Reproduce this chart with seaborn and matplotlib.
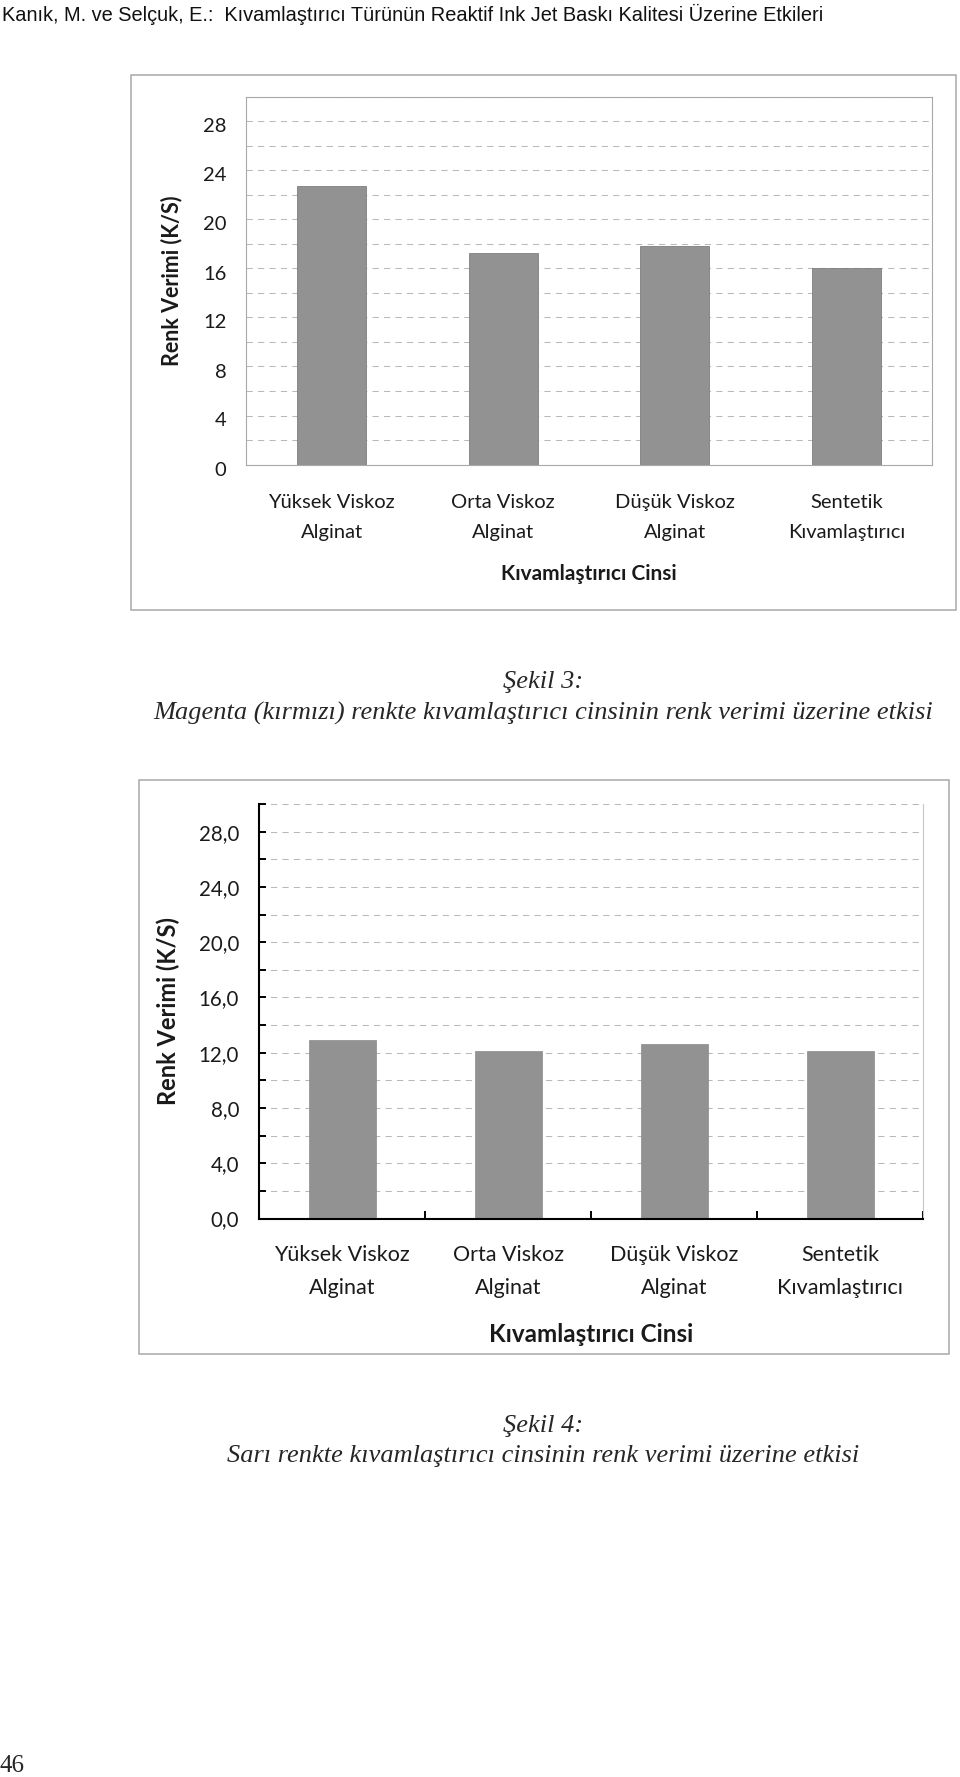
import matplotlib
matplotlib.use("Agg")
import matplotlib.pyplot as plt
import seaborn as sns
import pandas as pd
from matplotlib.patches import Rectangle
from matplotlib.ticker import FixedLocator
from matplotlib.transforms import ScaledTranslation

# ---------------- data ----------------
header = "Kanık, M. ve Selçuk, E.:  Kıvamlaştırıcı Türünün Reaktif Ink Jet Baskı Kalitesi Üzerine Etkileri"
categories = ["Yüksek Viskoz\nAlginat", "Orta Viskoz\nAlginat",
              "Düşük Viskoz\nAlginat", "Sentetik\nKıvamlaştırıcı"]
magenta_ks = [22.7, 17.25, 17.85, 16.05]
sari_ks = [12.9, 12.12, 12.65, 12.12]
major_ticks = [0, 4, 8, 12, 16, 20, 24, 28]
minor_ticks = [2, 6, 10, 14, 18, 22, 26, 30]
tick_labels_1 = ["0", "4", "8", "12", "16", "20", "24", "28"]
tick_labels_2 = ["0,0", "4,0", "8,0", "12,0", "16,0", "20,0", "24,0", "28,0"]
y_label = "Renk Verimi (K/S)"
x_label = "Kıvamlaştırıcı Cinsi"
caption3 = ["Şekil 3:", "Magenta (kırmızı) renkte kıvamlaştırıcı cinsinin renk verimi üzerine etkisi"]
caption4 = ["Şekil 4:", "Sarı renkte kıvamlaştırıcı cinsinin renk verimi üzerine etkisi"]
page_number = "46"

# ---------------- style ----------------
sns.set_style("white")
plt.rcParams["font.family"] = ["Lato", "DejaVu Sans"]

W, H = 960, 1777
fig = plt.figure(figsize=(W / 100, H / 100), dpi=100)


def rect(x0, y0, x1, y1):
    return [x0 / W, 1 - y1 / H, (x1 - x0) / W, (y1 - y0) / H]


def box(x0, y0, x1, y1):
    fig.add_artist(Rectangle((x0 / W, 1 - y1 / H), (x1 - x0) / W, (y1 - y0) / H,
                             transform=fig.transFigure, fill=False,
                             edgecolor="#a8a8a8", linewidth=1.1, zorder=0))


BAR = "#929292"
GRID = "#b9b9b9"
DASH = (0, (6, 5))

# ---------------- chart 1 ----------------
box(131, 75, 956, 610)
ax1 = fig.add_axes(rect(246, 97, 932, 464.5))
df1 = pd.DataFrame({"cat": categories, "val": magenta_ks})
sns.barplot(data=df1, x="cat", y="val", ax=ax1, color=BAR, saturation=1,
            width=0.4, edgecolor="#7e7e7e", linewidth=0.6)
ax1.set_xlim(-0.5, 3.5)
ax1.set_ylim(0, 30)
ax1.set_axisbelow(True)
ax1.set_yticks(major_ticks)
ax1.set_yticklabels(tick_labels_1)
ax1.yaxis.set_minor_locator(FixedLocator(minor_ticks))
ax1.yaxis.grid(True, which="both", linestyle=DASH, color=GRID, linewidth=0.75)
ax1.xaxis.grid(False)
ax1.tick_params(axis="y", which="both", length=0, pad=14, labelsize=14.5, labelcolor="#1a1a1a")
shift = ScaledTranslation(0, -4 / 100, fig.dpi_scale_trans)
for lab in ax1.get_yticklabels():
    lab.set_transform(lab.get_transform() + shift)
ax1.set_xticks(range(len(categories)))
ax1.set_xticklabels(categories, linespacing=1.95)
ax1.tick_params(axis="x", which="major", length=0, pad=21, labelsize=14.5, labelcolor="#1a1a1a")
ax1.xaxis.set_minor_locator(FixedLocator([-0.5, 0.5, 1.5, 2.5, 3.5]))
ax1.tick_params(axis="x", which="minor", direction="in", length=5, width=0.8, color="#a0a0a0")
for s in ax1.spines.values():
    s.set_visible(True)
    s.set_color("#a8a8a8")
    s.set_linewidth(0.8)
ax1.set_ylabel(y_label, fontsize=15.5, fontweight="bold", va="center", color="#1a1a1a")
ax1.yaxis.set_label_coords((172 - 246) / 686, 0.5)
ax1.set_xlabel(x_label, fontsize=15, fontweight="bold", va="center", color="#1a1a1a")
ax1.xaxis.set_label_coords(0.5, (464.5 - 574.5) / 367.5)

# ---------------- chart 2 ----------------
box(138.5, 779.5, 949, 1354)
ax2 = fig.add_axes(rect(259.3, 804, 923.3, 1218.5))
df2 = pd.DataFrame({"cat": categories, "val": sari_ks})
sns.barplot(data=df2, x="cat", y="val", ax=ax2, color=BAR, saturation=1,
            width=0.4, edgecolor="#8a8a8a", linewidth=0.5)
ax2.set_xlim(-0.5, 3.5)
ax2.set_ylim(0, 30)
ax2.set_axisbelow(True)
ax2.set_yticks(major_ticks)
ax2.set_yticklabels(tick_labels_2)
ax2.yaxis.set_minor_locator(FixedLocator(minor_ticks))
ax2.yaxis.grid(True, which="both", linestyle=DASH, color=GRID, linewidth=0.75)
ax2.xaxis.grid(False)
ax2.tick_params(axis="y", which="both", direction="in", length=5, width=1.4,
                color="black", left=True)
ax2.tick_params(axis="y", which="major", pad=14.5, labelsize=14.8, labelcolor="#1a1a1a")
ax2.set_xticks(range(len(categories)))
ax2.set_xticklabels(categories, linespacing=1.82)
ax2.tick_params(axis="x", which="major", length=0, pad=19, labelsize=15.5, labelcolor="#1a1a1a")
ax2.xaxis.set_minor_locator(FixedLocator([0.5, 1.5, 2.5, 3.5]))
ax2.tick_params(axis="x", which="minor", direction="in", length=5.5, width=1.4,
                color="black", bottom=True)
ax2.spines["top"].set_visible(False)
ax2.spines["right"].set_visible(True)
ax2.spines["right"].set_color("#c8c8c8")
ax2.spines["right"].set_linewidth(0.8)
for side in ("left", "bottom"):
    ax2.spines[side].set_visible(True)
    ax2.spines[side].set_color("black")
    ax2.spines[side].set_linewidth(1.5)
ax2.set_ylabel(y_label, fontsize=17, fontweight="bold", va="center", color="#1a1a1a")
ax2.yaxis.set_label_coords((168 - 259.3) / 664, 0.5)
ax2.set_xlabel(x_label, fontsize=17.5, fontweight="bold", va="center", color="#1a1a1a")
ax2.xaxis.set_label_coords(0.5, (1218.5 - 1335) / 414.5)

# ---------------- page texts ----------------
fig.text(2 / W, 1 - 14 / H, header, ha="left", va="center", fontsize=14.4,
         family=["Liberation Sans Narrow", "Liberation Sans", "DejaVu Sans"], color="#111111")
serif = ["Liberation Serif", "DejaVu Serif"]
fig.text(543 / W, 1 - 682 / H, caption3[0], ha="center", va="center", fontsize=19,
         family=serif, style="italic")
fig.text(543 / W, 1 - 713 / H, caption3[1], ha="center", va="center", fontsize=19,
         family=serif, style="italic")
fig.text(543 / W, 1 - 1426 / H, caption4[0], ha="center", va="center", fontsize=19,
         family=serif, style="italic")
fig.text(543 / W, 1 - 1456 / H, caption4[1], ha="center", va="center", fontsize=19,
         family=serif, style="italic")
fig.text(0 / W, 1 - 1766 / H, page_number, ha="left", va="center", fontsize=18, family=serif)

fig.savefig("out.png", dpi=100, facecolor="white")
